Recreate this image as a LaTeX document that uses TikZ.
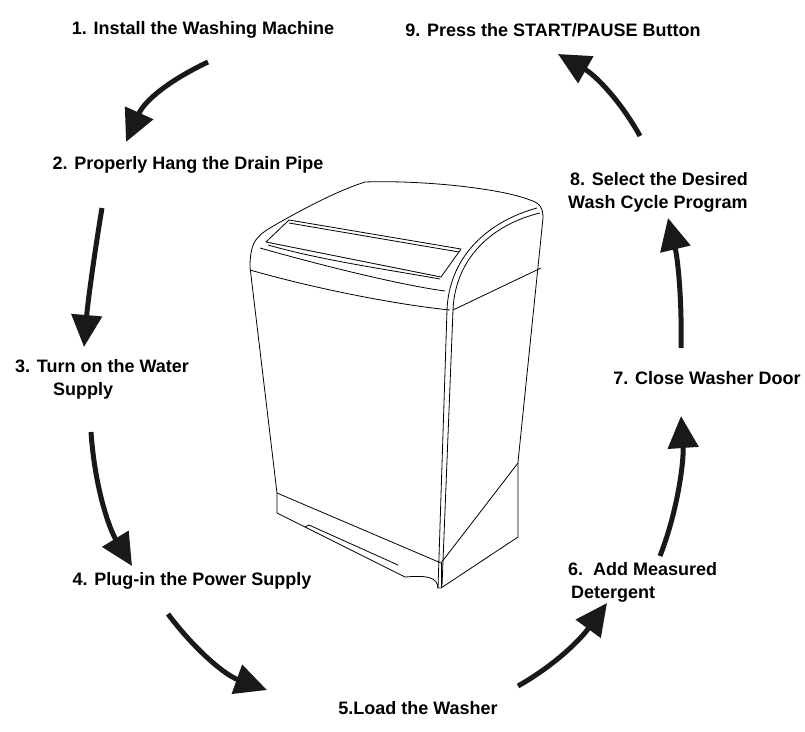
\documentclass[tikz,border=0pt]{standalone}
\usepackage{fontspec}
\setmainfont{Liberation Sans}
\usetikzlibrary{arrows.meta}
\begin{document}
\begin{tikzpicture}[x=1pt,y=-1pt,
  lbl/.style={font=\fontsize{18}{23}\selectfont\bfseries, inner sep=0pt},
  flow/.style={line width=5pt, draw=black!90, -{Triangle[length=32pt,width=30pt]}},
  mach/.style={line width=0.8pt, line join=round}]
\useasboundingbox (0,0) rectangle (805,731);
% labels
\node[lbl] (s1) at (203,30) {1. Install the Washing Machine};
\node[lbl] (s2) at (188,165) {2. Properly Hang the Drain Pipe};
\node[lbl, align=left, anchor=west] (s3) at (15,379) {3. Turn on the Water\\\hspace*{38pt}Supply};
\node[lbl] (s4) at (192,581) {4. Plug-in the Power Supply};
\node[lbl] (s5) at (418,708) {5.Load the Washer};
\node[lbl, align=left, anchor=west] (s6) at (568,582) {6.\ \ Add Measured\\\hspace*{3pt}Detergent};
\node[lbl] (s7) at (707,378) {7. Close Washer Door};
\node[lbl, align=left, anchor=west] (s8) at (568,192) {\hspace*{2pt}8. Select the Desired\\Wash Cycle Program};
\node[lbl] (s9) at (553,30) {9. Press the START/PAUSE Button};
% arrow end points
\coordinate (a1) at (208,62); \coordinate (b1) at (126,142);
\coordinate (a2) at (102,208); \coordinate (b2) at (84,347);
\coordinate (a3) at (91,432); \coordinate (b3) at (132,566);
\coordinate (a4) at (168,614); \coordinate (b4) at (267,690);
\coordinate (a5) at (518,686); \coordinate (b5) at (607,603);
\coordinate (a6) at (660,556); \coordinate (b6) at (681,416);
\coordinate (a7) at (681,348); \coordinate (b7) at (668,218);
\coordinate (a8) at (640,136); \coordinate (b8) at (558,54);
\draw[flow] (a1) .. controls (170,80) and (145,100) .. (b1);
\draw[flow] (a2) .. controls (95,250) and (88,300) .. (b2);
\draw[flow] (a3) .. controls (95,490) and (110,530) .. (b3);
\draw[flow] (a4) .. controls (195,650) and (225,675) .. (b4);
\draw[flow] (a5) .. controls (555,665) and (580,640) .. (b5);
\draw[flow] (a6) .. controls (678,510) and (684,460) .. (b6);
\draw[flow] (a7) .. controls (682,300) and (678,260) .. (b7);
\draw[flow] (a8) .. controls (620,100) and (595,75) .. (b8);
% washing machine
\draw[mach] (250,267) .. controls (250,240) and (258,235) .. (275,225)
  .. controls (310,205) and (340,190) .. (365,182)
  .. controls (420,180) and (500,188) .. (530,200)
  .. controls (540,203) and (543,208) .. (543,218)
  -- (518,462) -- (518,537) -- (441,588) -- (438,588)
  .. controls (437,578) and (430,575) .. (405,577)
  -- (277,513) -- (277,493) -- cycle;
\draw[mach] (250,270) .. controls (320,290) and (400,305) .. (450,310);
\draw[mach] (453,310) .. controls (455,260) and (490,225) .. (540,213);
\draw[mach] (447,310) .. controls (449,258) and (486,222) .. (537,208);
\draw[mach] (447,310) -- (438,588);
\draw[mach] (453,310) -- (442,586);
\draw[mach] (453,310) -- (541,268);
\draw[mach] (266,242) -- (289,220) -- (461,249) -- (441,277) -- cycle;
\draw[mach] (289,223) -- (459,252);
\draw[mach] (268,245) .. controls (320,260) and (390,270) .. (440,279);
\draw[mach] (260,248) .. controls (320,265) and (400,285) .. (445,291);
\draw[mach] (277,493) -- (441,563) -- (518,463);
\draw[mach] (305,527) -- (309,525) -- (398,565);
\draw[mach] (441,563) -- (441,588);
\end{tikzpicture}
\end{document}
